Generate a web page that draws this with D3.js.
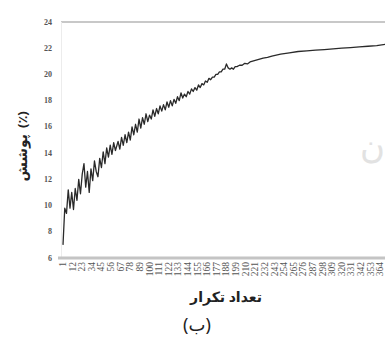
<!DOCTYPE html>
<html><head><meta charset="utf-8">
<script src="https://cdn.jsdelivr.net/npm/d3@7"></script>
<style>html,body{margin:0;padding:0;background:#fff;overflow:hidden}</style>
</head><body>
<svg id="c" width="385" height="356"></svg>
<script>
// iteration numbers and coverage (%) values
const iterations = [
 1,2,3,5,7,9,11,13,15,17,19,21,23,25,27,29,31,33,35,37,39,41,43,45,47,49,51,53,55,57,59,61,
 64,66,68,70,72,74,76,78,80,82,84,86,88,90,92,94,96,98,100,
 102,104,106,108,110,112,114,116,118,120,122,124,126,128,130,132,134,136,138,140,
 142,144,146,148,150,152,154,156,158,160,162,164,166,168,170,172,174,176,178,180,
 182,184,186,188,190,192,194,196,198,200,203,206,209,212,215,220,225,230,235,240,
 250,260,270,280,290,300,310,320,330,340,350,360,370];
const coverage = [
 7.0,8.4,9.8,9.4,11.2,9.8,11.0,9.7,11.3,10.4,12.0,10.9,12.4,13.2,11.4,12.6,11.0,12.8,11.9,13.4,12.6,12.2,13.6,12.9,14.1,13.2,14.4,13.7,14.6,13.9,14.8,14.2,
 14.9,14.3,15.2,14.6,15.4,14.8,15.6,15.0,16.0,15.4,16.2,15.6,16.6,15.9,16.7,16.2,17.0,16.4,16.9,
 16.6,17.3,16.8,17.4,17.0,17.6,17.2,17.7,17.3,17.9,17.5,18.0,17.6,18.1,17.8,18.3,18.0,18.6,18.2,18.5,
 18.3,18.7,18.5,18.9,18.7,19.0,18.8,19.2,19.0,19.3,19.2,19.5,19.4,19.7,19.6,19.8,19.8,20.0,20.0,20.2,
 20.2,20.4,20.4,20.8,20.5,20.4,20.5,20.4,20.6,20.6,20.7,20.7,20.85,20.8,20.95,21.05,21.15,21.25,21.3,21.4,
 21.55,21.65,21.75,21.8,21.85,21.9,21.95,22.0,22.05,22.1,22.15,22.2,22.3];
const yTicks = [6,8,10,12,14,16,18,20,22,24];
const xTickLabels = d3.range(1, 371, 11); // 1, 12, 23, ...
const xTitle = "تعداد تکرار";
const yTitleWord = "پوشش";
const yTitleUnit = "(٪)";
const caption = "(ب)";

const svg = d3.select("#c");
const x = d3.scaleLinear().domain([1, 370]).range([63, 385.5]);
const y = d3.scaleLinear().domain([6, 24]).range([258, 22]);
const serif = "'Liberation Serif','DejaVu Serif',serif";

// top frame line
svg.append("line").attr("x1", 61).attr("x2", 385).attr("y1", y(24)).attr("y2", y(24))
  .attr("stroke", "#c8c8c8").attr("stroke-width", 2);
// left faint axis
svg.append("line").attr("x1", 61.5).attr("x2", 61.5).attr("y1", y(24)).attr("y2", y(6))
  .attr("stroke", "#ececec").attr("stroke-width", 1);
// bottom axis
svg.append("line").attr("x1", 58).attr("x2", 385).attr("y1", y(6)).attr("y2", y(6))
  .attr("stroke", "#c4c4c4").attr("stroke-width", 3);

// y tick labels
svg.append("g").selectAll("text").data(yTicks).join("text")
  .attr("x", 52).attr("y", d => y(d) + 2.5)
  .attr("text-anchor", "end")
  .attr("font-family", serif).attr("font-size", 8).attr("font-weight", "bold")
  .attr("fill", "#555").text(d => d);

// x tick labels (rotated)
svg.append("g").selectAll("text").data(xTickLabels).join("text")
  .attr("transform", d => `translate(${x(d) + 3},262) rotate(-90)`)
  .attr("text-anchor", "end")
  .attr("font-family", serif).attr("font-size", 9.5)
  .attr("fill", "#555").text(d => d);

// watermark-like faint glyph
svg.append("text").attr("x", 385).attr("y", 158).attr("text-anchor", "end")
  .attr("font-family", "'Noto Sans',sans-serif").attr("font-size", 34)
  .attr("fill", "#e2e2e2").text("ن");

// the line
const line = d3.line().x((d, i) => x(iterations[i])).y(d => y(d));
svg.append("path").datum(coverage).attr("d", line)
  .attr("fill", "none").attr("stroke", "#2a2a2a").attr("stroke-width", 1.3)
  .attr("stroke-linejoin", "round");

// axis titles
svg.append("text").attr("x", 226).attr("y", 302).attr("text-anchor", "middle")
  .attr("font-family", "'Noto Sans','DejaVu Sans',sans-serif").attr("font-size", 14)
  .attr("font-weight", "bold").attr("fill", "#222").attr("direction", "rtl").text(xTitle);

const yt = svg.append("g").attr("transform", "translate(27,130) rotate(-90)");
yt.append("text").attr("x", -4).attr("y", 0).attr("text-anchor", "end")
  .attr("font-family", "'Noto Sans','DejaVu Sans',sans-serif").attr("font-size", 14)
  .attr("font-weight", "bold").attr("fill", "#222").text(yTitleWord);
yt.append("text").attr("x", 2).attr("y", 0).attr("text-anchor", "start")
  .attr("font-family", "'Noto Sans','DejaVu Sans',sans-serif").attr("font-size", 13)
  .attr("font-weight", "bold").attr("fill", "#222").text(yTitleUnit);

// caption
svg.append("text").attr("x", 197).attr("y", 331).attr("text-anchor", "middle")
  .attr("font-family", "'Noto Sans','DejaVu Sans',sans-serif").attr("font-size", 18)
  .attr("fill", "#222").text(caption);
</script>
</body></html>
